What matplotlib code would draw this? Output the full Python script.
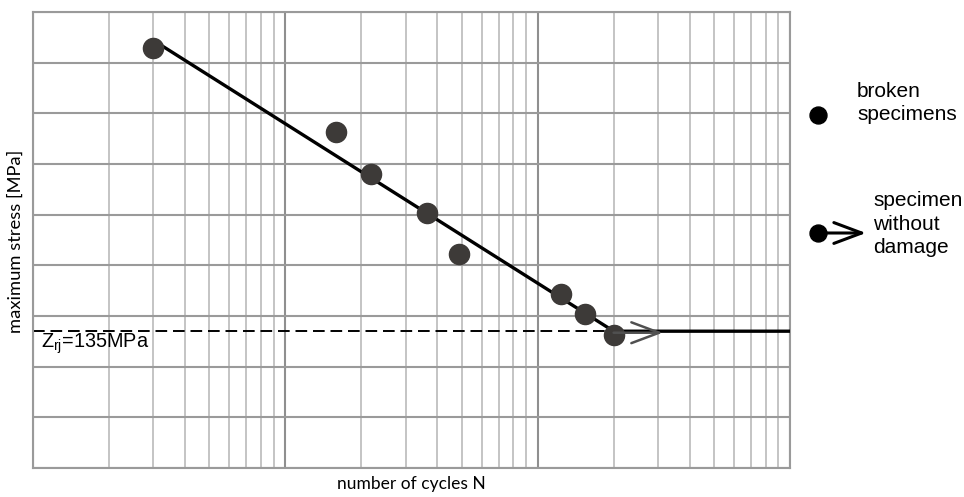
import matplotlib.pyplot as plt
from matplotlib.ticker import LogLocator, MultipleLocator, NullFormatter

plt.rcParams['font.family'] = ['Liberation Sans', 'DejaVu Sans']

# fatigue test results (cycles to failure, max stress in MPa)
cycles = [3.0e4, 1.59e5, 2.19e5, 3.63e5, 4.9e5, 1.24e6, 1.54e6, 2.0e6]
stress = [414, 332, 290, 252, 211, 172, 152, 131]

# fitted S-N curve: sloped part then fatigue limit
fit_n = [3.0e4, 2.0e6, 1.0e7]
fit_s = [422, 135, 135]
z_rj = 135
runout_n = [2.0e6, 3.13e6]

fig = plt.figure(figsize=(9.64, 4.97), dpi=100)
ax = fig.add_axes([33/964, 29/497, 757/964, 456/497])

ax.set_xscale('log')
ax.set_xlim(1e4, 1e7)
ax.set_ylim(0, 450)
ax.xaxis.set_major_locator(LogLocator(base=10))
ax.xaxis.set_minor_locator(LogLocator(base=10, subs=range(2, 10)))
ax.xaxis.set_minor_formatter(NullFormatter())
ax.yaxis.set_major_locator(MultipleLocator(50))
ax.tick_params(which='both', length=0, labelbottom=False, labelleft=False)
ax.grid(which='major', axis='x', color='#8f8f8f', lw=1.5)
ax.grid(which='minor', axis='x', color='#c4c4c4', lw=1.4)
ax.grid(which='major', axis='y', color='#9a9a9a', lw=1.5)
ax.set_axisbelow(True)
for sp in ax.spines.values():
    sp.set_color('#9a9a9a')
    sp.set_linewidth(1.5)

ax.hlines(z_rj, 1e4, fit_n[1], colors='black', lw=1.4, linestyles=(0, (6, 3)), zorder=2)
ax.plot(fit_n, fit_s, color='black', lw=2.4, zorder=3, solid_capstyle='butt')
ax.plot(cycles, stress, 'o', color='#3d3a38', ms=14.5, zorder=4)
ax.annotate('', xy=(runout_n[1], 133.5), xytext=(runout_n[0], 133.5),
            arrowprops=dict(arrowstyle='->, head_length=0.8, head_width=0.3',
                            color='#505050', lw=1.8, mutation_scale=25,
                            shrinkA=0, shrinkB=0), zorder=5)

ax.text(0.011, 123, r'$\mathregular{Z_{rj}}$=135MPa', fontsize=14.3,
        transform=ax.get_yaxis_transform(), va='center', ha='left')

ax.set_xlabel('number of cycles N', fontsize=12.5, family=['Lato', 'DejaVu Sans'])
ax.xaxis.set_label_coords(0.5, -0.018)
ax.set_ylabel('maximum stress [MPa]', fontsize=13.2, family=['Lato', 'DejaVu Sans'])
ax.yaxis.set_label_coords(-0.012, 0.497)

# legend drawn beside the chart
lg = fig.add_axes([0, 0, 1, 1], facecolor='none')
lg.set_xlim(0, 964)
lg.set_ylim(497, 0)
lg.axis('off')
lg.plot([818], [115], 'o', color='black', ms=12.2)
lg.text(857, 103, 'broken\nspecimens', fontsize=15, va='center', ha='left', linespacing=1.27)
lg.plot([818], [233], 'o', color='black', ms=12.2)
lg.annotate('', xy=(866, 233), xytext=(818, 233),
            arrowprops=dict(arrowstyle='->, head_length=0.8, head_width=0.3',
                            color='black', lw=2.2, mutation_scale=25,
                            shrinkA=0, shrinkB=0))
lg.text(873, 224, 'specimen\nwithout\ndamage', fontsize=15, va='center', ha='left', linespacing=1.27)

fig.savefig('out.png', dpi=100)
